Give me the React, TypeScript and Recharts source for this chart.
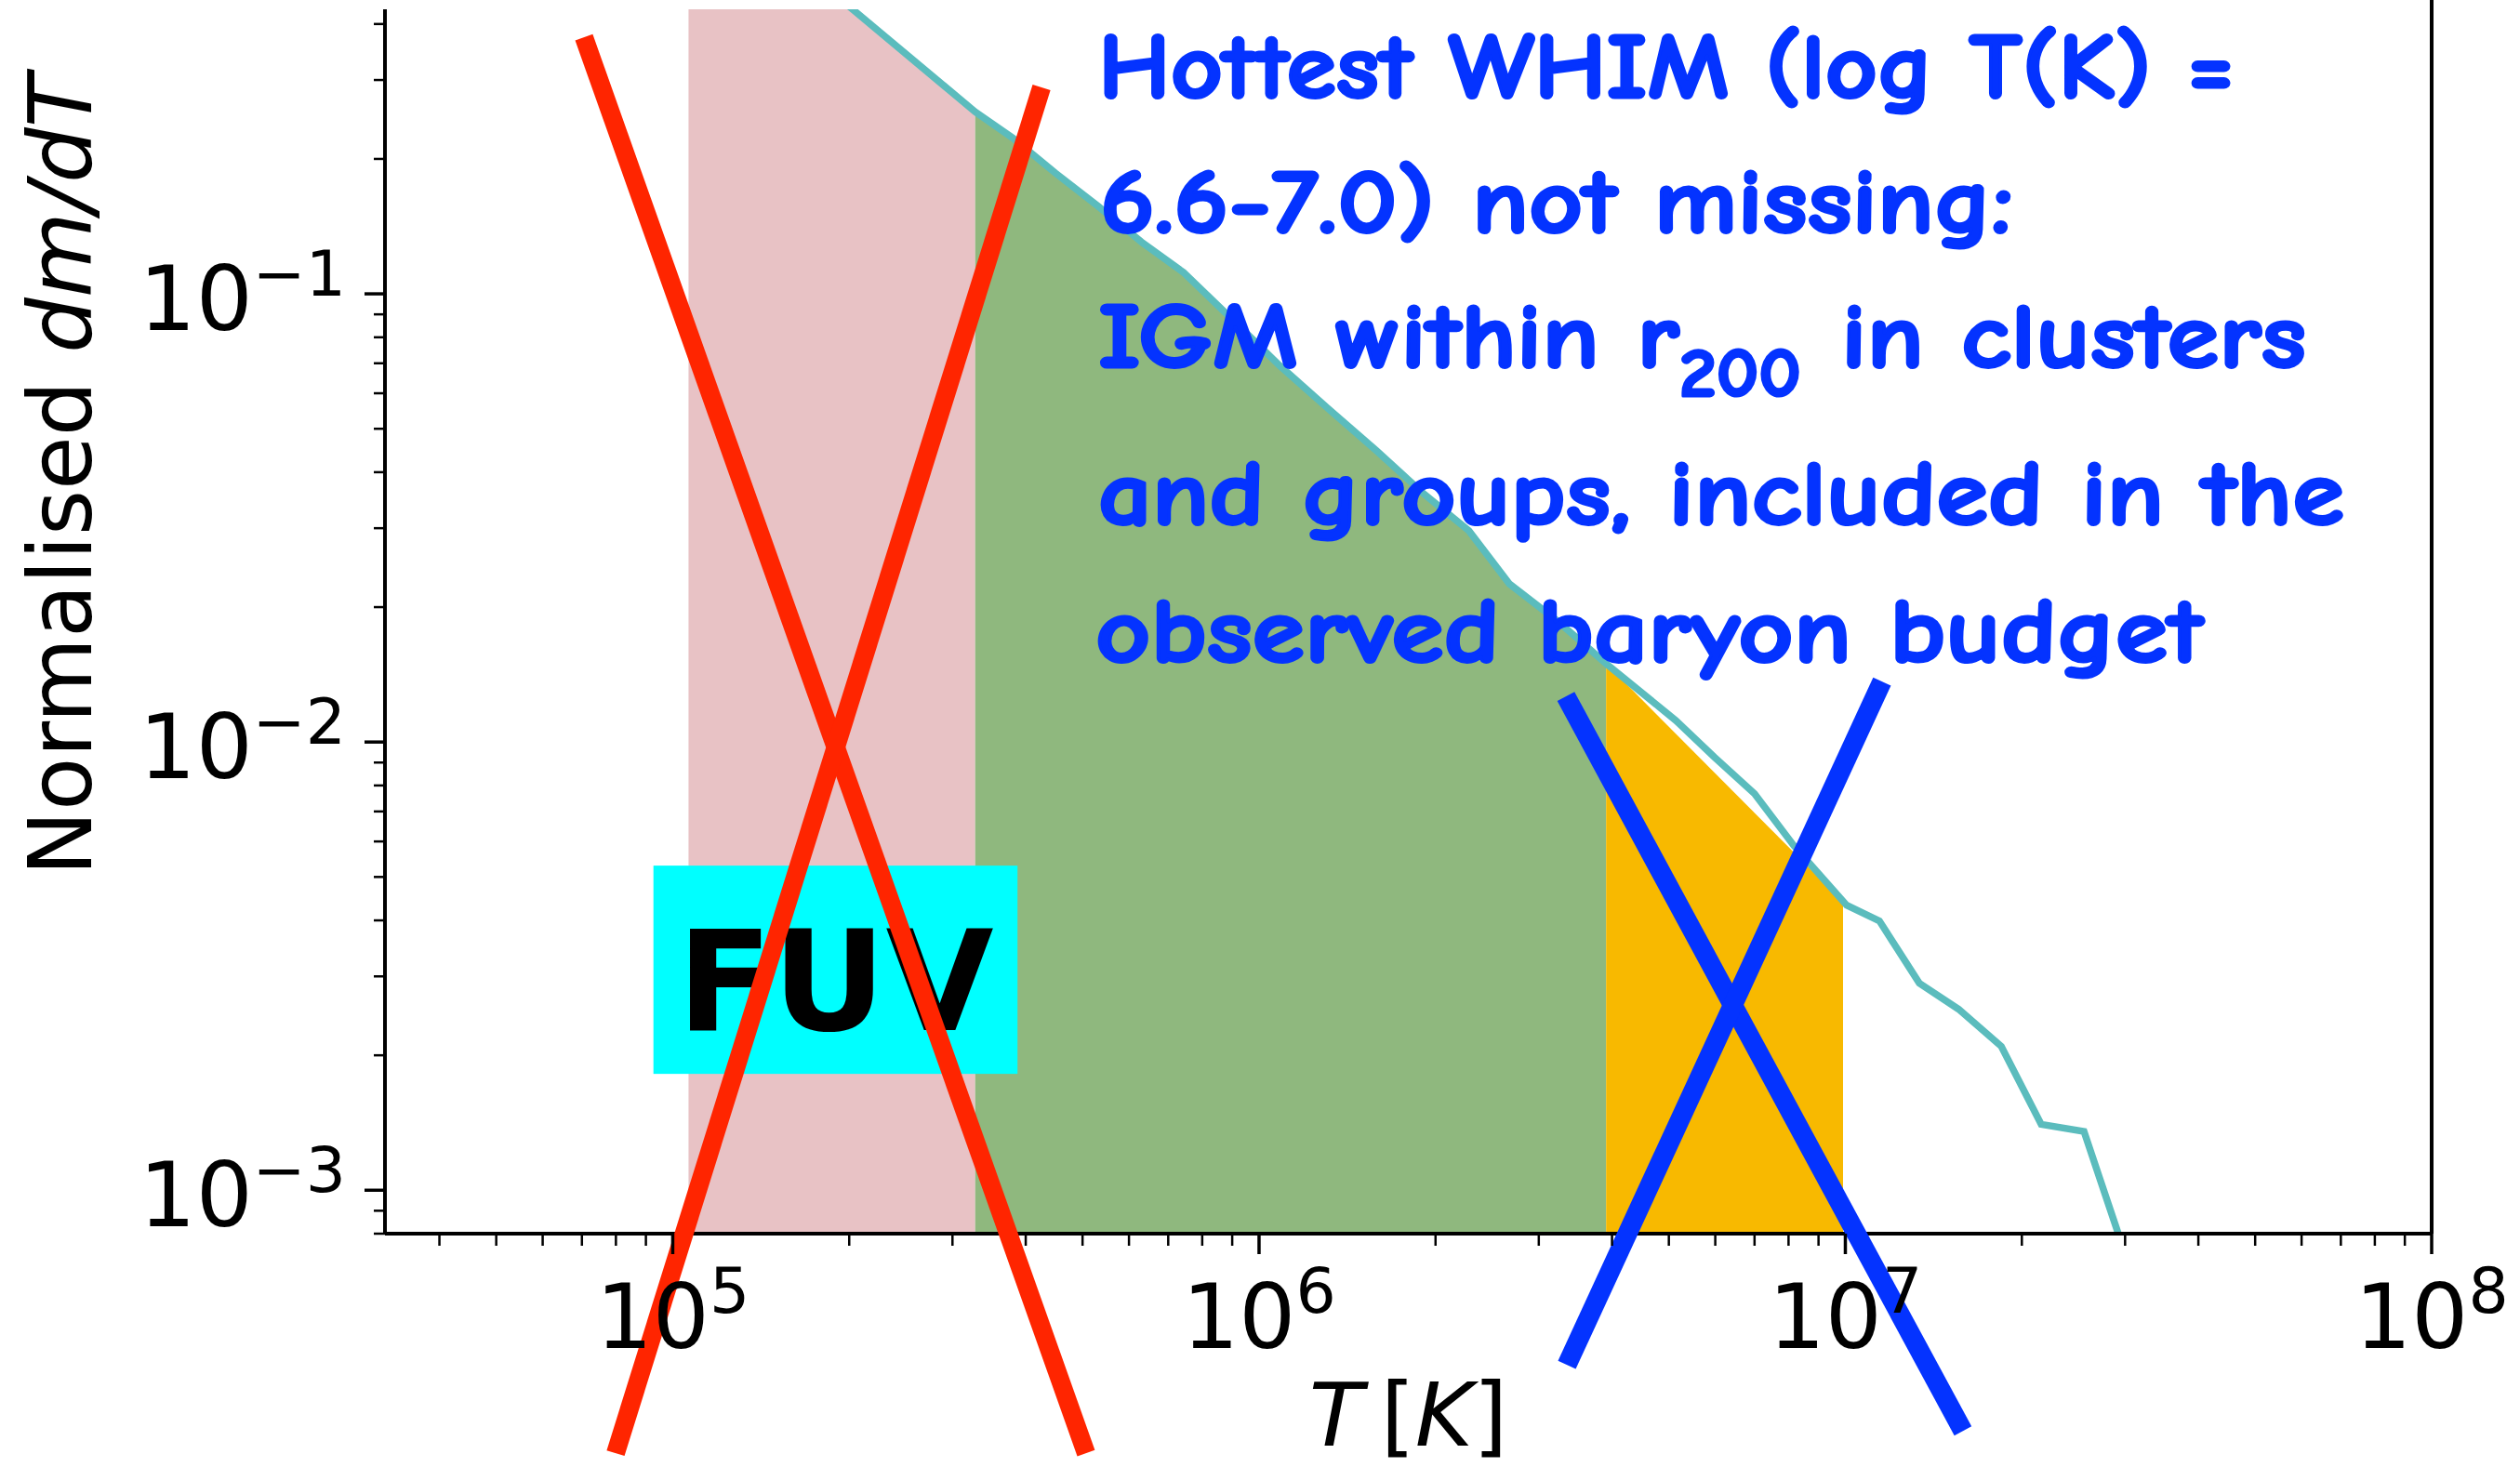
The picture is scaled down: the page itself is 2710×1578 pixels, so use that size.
import React from 'react';
import {
  ComposedChart,
  Area,
  Line,
  XAxis,
  YAxis,
  ReferenceLine,
  ReferenceArea,
  Label,
} from 'recharts';

const CHART_W = 2710;
const CHART_H = 1578;

const T_MIN = 3.23e4;
const T_MAX = 1e8;
const DMDT_MIN = 8e-4;
const DMDT_MAX = 0.4314;

// ---- ticks -------------------------------------------------------------
const X_MAJOR_TICKS = [1e5, 1e6, 1e7, 1e8];
const X_MAJOR_EXPONENTS = ['5', '6', '7', '8'];
const X_MINOR_TICKS = [
  4e4, 5e4, 6e4, 7e4, 8e4, 9e4,
  2e5, 3e5, 4e5, 5e5, 6e5, 7e5, 8e5, 9e5,
  2e6, 3e6, 4e6, 5e6, 6e6, 7e6, 8e6, 9e6,
  2e7, 3e7, 4e7, 5e7, 6e7, 7e7, 8e7, 9e7,
];
const Y_MAJOR_TICKS = [1e-3, 1e-2, 1e-1];
const Y_MAJOR_EXPONENTS = ['\u22123', '\u22122', '\u22121'];
const Y_MINOR_TICKS = [
  8e-4, 9e-4,
  2e-3, 3e-3, 4e-3, 5e-3, 6e-3, 7e-3, 8e-3, 9e-3,
  2e-2, 3e-2, 4e-2, 5e-2, 6e-2, 7e-2, 8e-2, 9e-2,
  2e-1, 3e-1, 4e-1,
];

// ---- full distribution (cyan line) --------------------------------------
const LINE_T = [
  7.94e4, 2.03e5, 3.28e5, 3.8e5, 4.5e5, 5.32e5, 6.3e5, 7.43e5, 8.79e5, 1.084e6,
  1.309e6, 1.585e6, 1.91e6, 2.28e6, 2.673e6, 3.228e6, 3.908e6, 5.14e6, 5.98e6, 7.0e6,
  8.17e6, 1.005e7, 1.143e7, 1.337e7, 1.56e7, 1.845e7, 2.158e7, 2.553e7, 2.897e7, 3.39e7,
];
const LINE_DMDT = [
  1.2, 0.4305, 0.2547, 0.2228, 0.1858, 0.1567, 0.1306, 0.1117, 0.0904, 0.0692,
  0.0556, 0.0447, 0.0358, 0.0296, 0.02254, 0.01862, 0.01496, 0.01117, 0.00925, 0.00767,
  0.00587, 0.004325, 0.00399, 0.002897, 0.002535, 0.002094, 0.001403, 0.001352, 0.000826, 0.000447,
];

// ---- shaded bands -------------------------------------------------------
const PINK_T = [1.064e5, 2.03e5, 3.28e5];
const PINK_DMDT = [0.873, 0.4305, 0.2547];

const GREEN_T = [
  3.28e5, 3.8e5, 4.5e5, 5.32e5, 6.3e5, 7.43e5, 8.79e5, 1.084e6,
  1.309e6, 1.585e6, 1.91e6, 2.28e6, 2.673e6, 3.228e6, 3.908e6,
];
const GREEN_DMDT = [
  0.2547, 0.2228, 0.1858, 0.1567, 0.1306, 0.1117, 0.0904, 0.0692,
  0.0556, 0.0447, 0.0358, 0.0296, 0.02254, 0.01862, 0.01496,
];

const ORANGE_T = [3.908e6, 9.91e6];
const ORANGE_DMDT = [0.01496, 0.0044];

// ---- annotations (data coordinates) ------------------------------------
const FUV_T = [9.27e4, 3.873e5];
const FUV_DMDT = [1.818e-3, 5.3e-3];

const RED_A_T = [7.056e4, 5.07e5];
const RED_A_DMDT = [0.3736, 2.59e-4];
const RED_B_T = [7.99e4, 4.256e5];
const RED_B_DMDT = [2.59e-4, 0.2887];
const BLUE_A_T = [3.337e6, 1.587e7];
const BLUE_A_DMDT = [0.01264, 2.904e-4];
const BLUE_B_T = [3.35e6, 1.155e7];
const BLUE_B_DMDT = [4.077e-4, 0.01365];

const toRows = (xs: number[], ys: number[]) => xs.map((T, i) => ({ T, v: ys[i] }));
const lineRows = toRows(LINE_T, LINE_DMDT);
const pinkRows = toRows(PINK_T, PINK_DMDT);
const greenRows = toRows(GREEN_T, GREEN_DMDT);
const orangeRows = toRows(ORANGE_T, ORANGE_DMDT);
const seg = (xs: number[], ys: number[]) => [
  { x: xs[0], y: ys[0] },
  { x: xs[1], y: ys[1] },
];

const TICK_FONT = "'DejaVu Sans', 'Bitstream Vera Sans', sans-serif";

function XTick(props: any) {
  const { x, y, payload } = props;
  const idx = X_MAJOR_TICKS.indexOf(payload.value);
  if (idx < 0) {
    return <line x1={x} x2={x} y1={y} y2={y + 13} stroke="#000" strokeWidth={2.5} />;
  }
  return (
    <g>
      <line x1={x} x2={x} y1={y} y2={y + 22} stroke="#000" strokeWidth={3.5} />
      <text x={x} y={y + 123} textAnchor="middle" fontFamily={TICK_FONT} fontSize={96} fill="#000">
        10
        <tspan dy={-38} fontSize={68}>
          {X_MAJOR_EXPONENTS[idx]}
        </tspan>
      </text>
    </g>
  );
}

function YTick(props: any) {
  const { x, y, payload } = props;
  const idx = Y_MAJOR_TICKS.indexOf(payload.value);
  if (idx < 0) {
    return <line x1={x - 12} x2={x} y1={y} y2={y} stroke="#000" strokeWidth={2.5} />;
  }
  return (
    <g>
      <line x1={x - 22} x2={x} y1={y} y2={y} stroke="#000" strokeWidth={3.5} />
      <text x={x - 42} y={y + 39} textAnchor="end" fontFamily={TICK_FONT} fontSize={96} fill="#000">
        10
        <tspan dy={-37} fontSize={68}>
          {Y_MAJOR_EXPONENTS[idx]}
        </tspan>
      </text>
    </g>
  );
}

function XAxisTitle(props: any) {
  const vb = props.viewBox || { x: 414, y: 1327, width: 2201, height: 251 };
  return (
    <text
      x={vb.x + vb.width / 2}
      y={vb.y + 228}
      textAnchor="middle"
      fontFamily={TICK_FONT}
      fontSize={95}
      fill="#000"
    >
      <tspan fontStyle="italic">T</tspan>
      <tspan>{'\u2009['}</tspan>
      <tspan fontStyle="italic">K</tspan>
      <tspan>]</tspan>
    </text>
  );
}

function YAxisTitle(props: any) {
  const vb = props.viewBox || { x: 0, y: 10, width: 414, height: 1317 };
  const cx = vb.x + 98;
  const cy = vb.y + 501;
  return (
    <text
      x={cx}
      y={cy}
      transform={`rotate(-90, ${cx}, ${cy})`}
      textAnchor="middle"
      fontFamily={TICK_FONT}
      fontSize={94}
      fill="#000"
    >
      Normalised <tspan fontStyle="italic">dm/dT</tspan>
    </text>
  );
}

function FuvShape(p: any) {
  return (
    <g>
      <rect x={p.x} y={p.y} width={p.width} height={p.height} fill="#00ffff" />
      <text
        x={p.x + p.width / 2}
        y={p.y + p.height - 47}
        textAnchor="middle"
        fontFamily={TICK_FONT}
        fontWeight="bold"
        fontSize={150}
        fill="#000"
      >
        FUV
      </text>
    </g>
  );
}

const NOTE_COLOR = '#0433ff';
const NOTE_FONT = "'Comic Sans MS', 'Comic Neue', Lato, 'Open Sans', sans-serif";
const NOTE_LINES = [
  { text: 'Hottest WHIM (log T(K) =', x: 1181, y: 105, len: 1222, size: 100 },
  { text: '6.6-7.0) not missing:', x: 1183, y: 250, len: 982, size: 100 },
  { text: 'IGM within r', x: 1181, y: 395, len: 625, size: 100 },
  { text: '200', x: 1806, y: 426, len: 131, size: 75 },
  { text: 'in clusters', x: 1980, y: 395, len: 500, size: 100 },
  { text: 'and groups, included in the', x: 1181, y: 564, len: 1340, size: 100 },
  { text: 'observed baryon budget', x: 1178, y: 712, len: 1191, size: 100 },
];

function NoteOverlay() {
  return (
    <svg
      width={CHART_W}
      height={CHART_H}
      style={{ position: 'absolute', left: 0, top: 0, pointerEvents: 'none' }}
    >
      {NOTE_LINES.map((l, i) => (
        <text
          key={i}
          x={l.x}
          y={l.y}
          textLength={l.len}
          lengthAdjust="spacingAndGlyphs"
          fontFamily={NOTE_FONT}
          fontWeight={800}
          fontSize={l.size}
          fill={NOTE_COLOR}
          stroke={NOTE_COLOR}
          strokeWidth={3}
          strokeLinejoin="round"
        >
          {l.text}
        </text>
      ))}
    </svg>
  );
}

export default function App() {
  return (
    <div
      style={{
        position: 'absolute',
        left: 0,
        top: 0,
        width: CHART_W,
        height: CHART_H,
        background: '#ffffff',
        overflow: 'hidden',
      }}
    >
      <ComposedChart
        width={CHART_W}
        height={CHART_H}
        margin={{ top: 10, right: 95, bottom: 0, left: 0 }}
      >
        <Area
          data={pinkRows}
          dataKey="v"
          type="linear"
          stroke="none"
          fill="#e8c2c5"
          fillOpacity={1}
          baseValue={DMDT_MIN}
          isAnimationActive={false}
          dot={false}
          activeDot={false}
          zIndex={100}
        />
        <Area
          data={greenRows}
          dataKey="v"
          type="linear"
          stroke="none"
          fill="#8fb87e"
          fillOpacity={1}
          baseValue={DMDT_MIN}
          isAnimationActive={false}
          dot={false}
          activeDot={false}
          zIndex={100}
        />
        <Area
          data={orangeRows}
          dataKey="v"
          type="linear"
          stroke="none"
          fill="#f8b900"
          fillOpacity={1}
          baseValue={DMDT_MIN}
          isAnimationActive={false}
          dot={false}
          activeDot={false}
          zIndex={100}
        />
        <Line
          data={lineRows}
          dataKey="v"
          type="linear"
          stroke="#5bbcbd"
          strokeWidth={7.5}
          dot={false}
          activeDot={false}
          isAnimationActive={false}
          zIndex={400}
        />
        <ReferenceArea
          x1={FUV_T[0]}
          x2={FUV_T[1]}
          y1={FUV_DMDT[0]}
          y2={FUV_DMDT[1]}
          ifOverflow="visible"
          shape={FuvShape}
          zIndex={450}
        />
        <XAxis
          dataKey="T"
          type="number"
          scale="log"
          domain={[T_MIN, T_MAX]}
          allowDataOverflow
          ticks={[...X_MINOR_TICKS, ...X_MAJOR_TICKS]}
          interval={0}
          tickSize={0}
          tickMargin={0}
          tickLine={false}
          axisLine={{ stroke: '#000', strokeWidth: 4 }}
          height={251}
          tick={(p: any) => <XTick {...p} />}
        >
          <Label content={(p: any) => <XAxisTitle {...p} />} />
        </XAxis>
        <YAxis
          type="number"
          scale="log"
          domain={[DMDT_MIN, DMDT_MAX]}
          allowDataOverflow
          ticks={[...Y_MINOR_TICKS, ...Y_MAJOR_TICKS]}
          interval={0}
          tickSize={0}
          tickMargin={0}
          tickLine={false}
          axisLine={{ stroke: '#000', strokeWidth: 4 }}
          width={414}
          tick={(p: any) => <YTick {...p} />}
        >
          <Label content={(p: any) => <YAxisTitle {...p} />} />
        </YAxis>
        <ReferenceLine
          segment={[{ x: T_MAX, y: DMDT_MIN }, { x: T_MAX, y: 0.46 }]}
          stroke="#000"
          strokeWidth={4}
          ifOverflow="visible"
          zIndex={600}
        />
        <ReferenceLine
          segment={seg(RED_A_T, RED_A_DMDT)}
          stroke="#ff2500"
          strokeWidth={20}
          ifOverflow="visible"
          zIndex={1600}
        />
        <ReferenceLine
          segment={seg(RED_B_T, RED_B_DMDT)}
          stroke="#ff2500"
          strokeWidth={20}
          ifOverflow="visible"
          zIndex={1600}
        />
        <ReferenceLine
          segment={seg(BLUE_A_T, BLUE_A_DMDT)}
          stroke="#0433ff"
          strokeWidth={21}
          ifOverflow="visible"
          zIndex={1600}
        />
        <ReferenceLine
          segment={seg(BLUE_B_T, BLUE_B_DMDT)}
          stroke="#0433ff"
          strokeWidth={21}
          ifOverflow="visible"
          zIndex={1600}
        />
      </ComposedChart>
      <NoteOverlay />
    </div>
  );
}
